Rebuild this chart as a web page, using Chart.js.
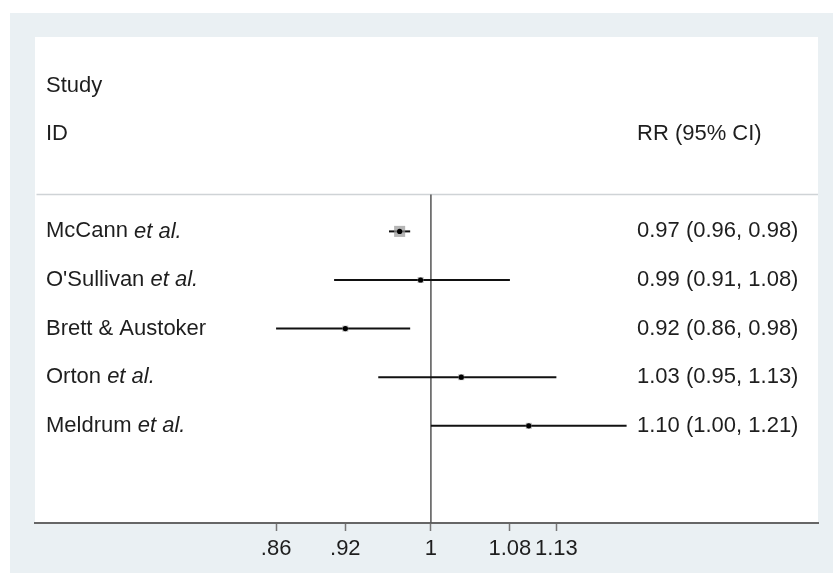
<!DOCTYPE html>
<html>
<head>
<meta charset="utf-8">
<script src="https://cdn.jsdelivr.net/npm/chart.js@4"></script>
<style>
  html, body { margin: 0; padding: 0; background: #fff; }
  #wrap { position: absolute; left: 10px; top: 13px; width: 823px; height: 560px; }
</style>
</head>
<body>
<div id="wrap"><canvas id="forest"></canvas></div>
<script>
// study data (risk ratios with 95% CI)
const studies = ["McCann", "O'Sullivan", "Brett & Austoker", "Orton", "Meldrum"]
const etAl = [true, true, false, true, true]
const rr = [0.97, 0.99, 0.92, 1.03, 1.10]
const lower = [0.96, 0.91, 0.86, 0.95, 1.00]
const upper = [0.98, 1.08, 0.98, 1.13, 1.21]
const weights = [95.5, 1.1, 1.9, 0.8, 0.7]
const xTickValues = [0.86, 0.92, 1, 1.08, 1.13]
const xTickLabels = ['.86', '.92', '1', '1.08', '1.13']

const FONT = "'Liberation Sans', Arial, sans-serif"
const TEXT = '#1e1e1e'
const xMin = 0.681, xMax = 1.458
const sepRow = 0.24

const ciSets = studies.map((s, i) => ({
  type: 'line',
  data: [{ x: lower[i], y: i + 1 }, { x: upper[i], y: i + 1 }],
  borderColor: '#111',
  borderWidth: 2,
  pointRadius: 0,
  order: 3
}))

new Chart(document.getElementById('forest'), {
  type: 'scatter',
  data: {
    datasets: [
      {
        type: 'line',
        data: [{ x: xMin, y: sepRow }, { x: xMax, y: sepRow }],
        borderColor: '#cfd3d6',
        borderWidth: 1.5,
        pointRadius: 0,
        order: 5
      },
      {
        type: 'line',
        data: [{ x: 1, y: sepRow }, { x: 1, y: 7 }],
        borderColor: '#555',
        borderWidth: 1.5,
        pointRadius: 0,
        order: 4
      },
      ...ciSets,
      {
        data: rr.map((v, i) => ({ x: v, y: i + 1 })),
        pointStyle: 'rect',
        pointRadius: weights.map(w => Math.max(4.2, 0.8 * Math.sqrt(w))),
        backgroundColor: 'rgba(150,150,150,0.7)',
        borderWidth: 0,
        order: 2
      },
      {
        data: rr.map((v, i) => ({ x: v, y: i + 1 })),
        pointStyle: 'circle',
        pointRadius: 2.6,
        backgroundColor: '#000',
        borderWidth: 0,
        order: 1
      }
    ]
  },
  options: {
    responsive: true,
    maintainAspectRatio: false,
    animation: false,
    layout: { padding: { left: 25, top: 24, right: 15, bottom: 0 } },
    plugins: {
      legend: { display: false },
      tooltip: { enabled: false }
    },
    scales: {
      x: {
        type: 'logarithmic',
        min: xMin,
        max: xMax,
        afterBuildTicks: (scale) => {
          scale.ticks = xTickValues.map(v => ({ value: v }))
        },
        afterFit: (scale) => { scale.height = 50 },
        border: { display: true, color: '#666', width: 2 },
        grid: {
          drawOnChartArea: false,
          drawTicks: true,
          tickLength: 8,
          tickColor: '#777',
          tickWidth: 1.5
        },
        ticks: {
          autoSkip: false,
          maxRotation: 0,
          padding: 5,
          color: TEXT,
          font: { size: 22, family: FONT },
          callback: (v, i) => xTickLabels[i]
        }
      },
      y: {
        type: 'linear',
        reverse: true,
        min: -3,
        max: 7,
        display: false
      }
    }
  },
  plugins: [{
    id: 'panel',
    beforeDraw: (chart) => {
      const { ctx, chartArea: a } = chart
      ctx.save()
      ctx.fillStyle = '#eaf0f3'
      ctx.fillRect(0, 0, chart.width, chart.height)
      ctx.fillStyle = '#fff'
      ctx.fillRect(a.left, a.top, a.right - a.left, a.bottom - a.top)
      ctx.restore()
    },
    afterDatasetsDraw: (chart) => {
      const { ctx, chartArea: a } = chart
      const ys = chart.scales.y
      const leftX = a.left + 11
      const rightX = a.left + 602
      ctx.save()
      ctx.fillStyle = TEXT
      ctx.textBaseline = 'middle'
      ctx.textAlign = 'left'
      const normal = `22px ${FONT}`
      const italic = `italic 22px ${FONT}`
      ctx.font = normal
      ctx.fillText('Study', leftX, ys.getPixelForValue(-2))
      ctx.fillText('ID', leftX, ys.getPixelForValue(-1))
      ctx.fillText('RR (95% CI)', rightX, ys.getPixelForValue(-1))
      studies.forEach((s, i) => {
        const y = ys.getPixelForValue(i + 1)
        ctx.font = normal
        ctx.fillText(s, leftX, y)
        if (etAl[i]) {
          const w = ctx.measureText(s + ' ').width
          ctx.font = italic
          ctx.fillText('et al.', leftX + w, y)
        }
        ctx.font = normal
        const txt = `${rr[i].toFixed(2)} (${lower[i].toFixed(2)}, ${upper[i].toFixed(2)})`
        ctx.fillText(txt, rightX, y)
      })
      ctx.restore()
    }
  }]
})
</script>
</body>
</html>
